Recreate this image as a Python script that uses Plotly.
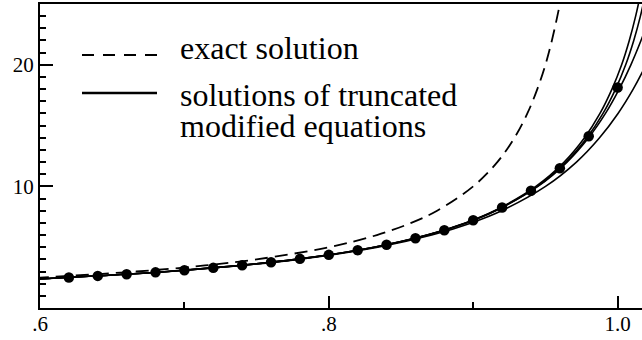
import plotly.graph_objects as go

# Exact solution (dashed) y = 1/(1-t), read as (t, y) pairs
exact_t = [0.5833, 0.6, 0.6667, 0.7143, 0.75, 0.8, 0.8333, 0.8571, 0.875, 0.9, 0.9167,
           0.9286, 0.9375, 0.9444, 0.95, 0.9545, 0.96, 0.963]
exact_y = [2.4, 2.5, 3, 3.5, 4, 5, 6, 7, 8, 10, 12, 14, 16, 18, 20, 22, 25, 27]

# Numerical solution (bullets), step 0.02
dots_t = [0.62, 0.64, 0.66, 0.68, 0.70, 0.72, 0.74, 0.76, 0.78, 0.80,
          0.82, 0.84, 0.86, 0.88, 0.90, 0.92, 0.94, 0.96, 0.98, 1.00]
dots_y = [2.51, 2.64, 2.78, 2.93, 3.10, 3.30, 3.51, 3.76, 4.04, 4.37,
          4.75, 5.20, 5.74, 6.40, 7.22, 8.27, 9.64, 11.49, 14.13, 18.13]

# Solutions of truncated modified equations (N = 1..4)
mod1_t = [0.5824, 0.6014, 0.6895, 0.7790, 0.8339, 0.8713, 0.8987, 0.9197, 0.9501,
          0.9715, 0.9875, 1.0003, 1.0108, 1.0197, 1.0276]
mod1_y = [2.3, 2.4, 3, 4, 5, 6, 7, 8, 10, 12, 14, 16, 18, 20, 22]

mod2_t = [0.5816, 0.6005, 0.6882, 0.7770, 0.8312, 0.8679, 0.8945, 0.9147, 0.9434,
          0.9630, 0.9771, 0.9878, 0.9961, 1.0028, 1.0081, 1.0125, 1.0162]
mod2_y = [2.3, 2.4, 3, 4, 5, 6, 7, 8, 10, 12, 14, 16, 18, 20, 22, 24, 26]

mod3_t = [0.5816, 0.6006, 0.6883, 0.7772, 0.8315, 0.8683, 0.8951, 0.9155, 0.9448,
          0.9650, 0.9799, 0.9916, 1.0011, 1.0092, 1.0162, 1.0225]
mod3_y = [2.3, 2.4, 3, 4, 5, 6, 7, 8, 10, 12, 14, 16, 18, 20, 22, 24]

mod4_t = [0.5816, 0.6006, 0.6883, 0.7772, 0.8314, 0.8682, 0.8950, 0.9153, 0.9444,
          0.9643, 0.9788, 0.9899, 0.9986, 1.0056, 1.0112, 1.0158, 1.0195]
mod4_y = [2.3, 2.4, 3, 4, 5, 6, 7, 8, 10, 12, 14, 16, 18, 20, 22, 24, 26]

x_tickvals = [0.6, 0.8, 1.0]
x_ticktext = [".6", ".8", "1.0"]
y_tickvals = [10, 20]
y_ticktext = ["10", "20"]

legend_labels = ["exact solution", "solutions of truncated", "modified equations"]

FONT = "Liberation Serif, Times New Roman, serif"

fig = go.Figure()

for tx, ty in [(mod1_t, mod1_y), (mod2_t, mod2_y), (mod3_t, mod3_y), (mod4_t, mod4_y)]:
    fig.add_trace(go.Scatter(x=tx, y=ty, mode="lines",
                             line=dict(color="black", width=1.6, shape="spline"),
                             showlegend=False, hoverinfo="skip"))

fig.add_trace(go.Scatter(x=exact_t, y=exact_y, mode="lines",
                         line=dict(color="black", width=1.8, dash="13px,7px", shape="spline"),
                         showlegend=False, hoverinfo="skip"))

fig.add_trace(go.Scatter(x=dots_t, y=dots_y, mode="markers",
                         marker=dict(color="black", size=10.5),
                         showlegend=False, cliponaxis=False))

L, R, T, B = 40, 0, 4, 32
W, H = 642, 340
pw, ph = W - L - R, H - T - B

def px(xp):
    return (xp - L) / pw

def py(yp):
    return (H - B - yp) / ph

# legend samples
fig.add_shape(type="line", xref="paper", yref="paper",
              x0=px(82), x1=px(157), y0=py(55), y1=py(55),
              line=dict(color="black", width=2, dash="12px,9px"))
fig.add_shape(type="line", xref="paper", yref="paper",
              x0=px(82), x1=px(157), y0=py(93), y1=py(93),
              line=dict(color="black", width=2.5))

for txt, ypos in zip(legend_labels, [48.0, 94.5, 125.5]):
    fig.add_annotation(text=txt, xref="paper", yref="paper", x=px(178), y=py(ypos),
                       xanchor="left", yanchor="middle", showarrow=False,
                       font=dict(family=FONT, size=32, color="black"))

fig.update_xaxes(range=[0.6, 1.0169], tickmode="array", tickvals=x_tickvals,
                 ticktext=x_ticktext, ticks="inside", ticklen=12, tickwidth=1.5,
                 tickcolor="black", showline=True, linecolor="black", linewidth=2,
                 mirror=True, showgrid=False, zeroline=False, ticklabelstandoff=-4,
                 tickfont=dict(family=FONT, size=21, color="black"),
                 minor=dict(tickmode="array", tickvals=[0.7, 0.9], ticks="inside",
                            ticklen=6, tickwidth=1.5, tickcolor="black", showgrid=False))
fig.update_yaxes(range=[0, 25], tickmode="array", tickvals=y_tickvals,
                 ticktext=y_ticktext, ticks="inside", ticklen=13, tickwidth=1.5,
                 tickcolor="black", showline=True, linecolor="black", linewidth=2,
                 mirror=False, showgrid=False, zeroline=False,
                 tickfont=dict(family=FONT, size=21, color="black"),
                 minor=dict(tickmode="linear", tick0=0, dtick=1, ticks="inside",
                            ticklen=6, tickwidth=1.5, tickcolor="black", showgrid=False))

fig.update_layout(width=W, height=H, margin=dict(l=L, r=R, t=T, b=B),
                  paper_bgcolor="white", plot_bgcolor="white", showlegend=False)

fig.write_html("out.html", config={"displayModeBar": False},
               post_script="document.body.style.margin='0px';")
